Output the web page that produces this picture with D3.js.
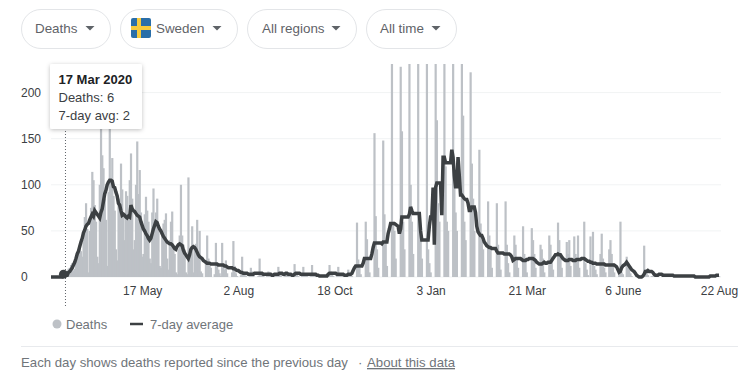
<!DOCTYPE html>
<html>
<head>
<meta charset="utf-8">
<script src="https://cdnjs.cloudflare.com/ajax/libs/d3/7.8.5/d3.min.js"></script>
<style>
body { margin: 0; background: #fff; }
text { font-family: "Liberation Sans", Arial, sans-serif; }
.axis path, .axis line { display: none; }
.axis text { font-size: 12px; fill: #3c4043; }
</style>
</head>
<body>
<div class="svg-container"></div>
<script>
//Daily values, one row = one week, first day 5 Mar 2020
const deaths = [
    0,0,0,0,0,1,0,
    0,1,0,1,1,6,2,
    9,10,13,15,7,9,20,
    26,30,34,28,22,40,65,
    80,52,5,50,75,114,105,
    78,60,22,15,100,175,132,
    118,85,62,12,92,172,105,
    129,88,72,30,18,80,85,
    123,95,70,40,93,88,62,
    105,134,85,30,40,100,147,
    90,116,70,22,25,68,87,
    72,60,20,15,70,96,60,
    70,85,50,12,10,45,58,
    62,69,20,8,40,60,71,
    30,25,5,3,30,45,100,
    45,35,30,5,3,108,30,
    25,55,5,30,36,62,25,
    50,6,4,0,0,15,45,
    20,12,10,0,0,3,37,
    15,8,4,1,37,12,8,
    18,4,0,0,0,5,39,
    12,4,1,0,0,2,22,
    6,3,1,0,0,2,10,
    6,2,0,0,0,1,20,
    5,4,2,0,0,1,6,
    5,3,1,0,0,3,4,
    11,4,2,0,0,1,3,
    4,2,1,0,0,1,14,
    5,3,1,0,0,2,11,
    3,2,1,0,0,1,13,
    4,2,1,0,0,1,2,
    1,1,0,0,0,1,13,
    6,3,1,0,0,1,11,
    3,2,1,0,0,1,2,
    8,3,2,1,0,0,0,
    59,19,10,3,0,0,0,
    60,41,20,5,0,0,0,
    156,66,30,10,0,0,0,
    148,68,40,12,0,0,0,
    300,60,50,20,0,0,0,
    228,158,60,30,0,0,0,
    330,100,60,25,0,0,0,
    280,60,40,20,0,0,0,
    240,30,15,5,0,0,0,
    600,170,80,60,0,0,0,
    500,120,60,50,0,0,0,
    450,100,70,50,0,0,0,
    480,175,60,40,0,0,0,
    222,123,85,50,0,0,0,
    138,58,40,30,0,0,0,
    82,45,30,10,0,0,0,
    80,35,25,8,0,0,0,
    82,35,15,5,0,0,0,
    45,35,20,10,0,0,0,
    55,25,20,5,0,0,0,
    53,40,25,10,0,0,0,
    35,30,20,5,0,0,0,
    45,35,22,8,0,0,0,
    59,40,25,10,0,0,0,
    38,25,40,12,0,0,44,
    25,20,45,10,0,0,0,
    60,15,8,2,0,44,0,
    49,12,8,3,0,0,25,
    47,20,10,5,0,0,30,
    40,25,15,5,0,0,0,
    8,60,5,3,0,0,22,
    10,11,4,1,0,0,0,
    2,0,0,0,0,0,34,
    8,5,2,0,0,1,1,
    2,1,0,0,0,0,0,
    4,2,1,0,0,0,1,
    2,1,0,0,0,0,1,
    1,1,0,0,0,0,1,
    1,0,0,0,0,0,1,
    1,1,0,0,0,0,0,
    1,0,0,0,0,1,1,
    2,3,1,1
];

const avg7 = [
    0,0,0,0,0,0,0,
    0,0,0,1,1,2,2,
    5,6,8,10,13,16,20,
    25,28,33,38,42,48,51,
    55,57,58,62,65,68,66,
    72,70,68,66,64,70,74,
    82,90,94,100,103,105,105,
    104,98,97,92,88,80,78,
    72,67,68,67,65,64,66,
    65,78,74,72,71,69,67,
    66,65,60,56,52,50,47,
    45,42,40,42,47,52,56,
    60,59,55,52,50,47,44,
    42,40,38,37,36,36,35,
    33,31,30,33,35,36,35,
    34,29,26,24,22,20,24,
    30,32,33,32,30,27,24,
    22,21,20,18,17,16,15,
    15,15,14,14,14,14,14,
    14,13,13,13,13,13,12,
    12,11,10,10,10,10,9,
    9,8,7,7,6,5,5,
    4,4,4,4,3,3,3,
    3,3,4,4,4,4,4,
    4,4,3,3,3,3,3,
    3,3,2,2,3,3,3,
    3,4,4,4,3,3,4,
    4,3,3,3,2,2,3,
    4,4,4,4,3,3,3,
    3,3,3,3,3,3,3,
    3,3,3,2,2,1,1,
    1,1,1,1,1,3,4,
    4,4,4,4,4,3,3,
    3,3,3,3,2,2,2,
    3,3,3,4,7,10,12,
    12,12,12,12,12,15,20,
    20,20,20,20,20,25,32,
    37,37,37,37,37,37,36,
    38,38,38,38,47,52,58,
    58,58,58,57,56,55,47,
    52,65,65,65,65,65,65,
    68,76,72,69,69,69,69,
    69,69,50,40,40,40,40,
    40,40,55,65,65,97,35,
    97,102,102,102,102,67,130,
    130,124,124,124,124,124,138,
    130,110,98,98,130,110,89,
    89,87,85,84,84,80,72,
    72,76,76,76,70,55,49,
    47,45,45,42,38,36,34,
    33,32,32,31,31,31,31,
    28,26,26,26,26,26,25,
    25,25,25,25,24,22,18,
    19,20,20,20,20,20,19,
    18,18,18,19,19,20,20,
    20,20,19,18,16,15,14,
    14,14,15,16,15,15,16,
    16,16,18,20,22,24,24,
    25,24,24,22,20,19,18,
    18,18,19,19,19,18,18,
    18,19,19,19,19,20,20,
    20,19,18,17,17,16,16,
    15,15,15,14,14,14,14,
    14,14,14,13,13,13,13,
    13,13,13,13,12,11,8,
    5,6,10,12,13,14,16,
    14,12,10,8,7,6,4,
    2,1,0,0,0,1,3,
    6,6,7,6,6,6,5,
    3,2,2,2,3,3,3,
    2,2,2,2,2,2,2,
    2,2,1,1,1,1,1,
    1,1,1,1,1,1,1,
    1,1,1,1,1,0,0,
    0,0,0,0,0,0,0,
    0,0,0,1,1,1,1,
    1,2,2,2
];

const yTicks = [0, 50, 100, 150, 200];
const xTickDays = [73, 150, 227, 304, 381, 458, 535];
const xTickLabels = ['17 May', '2 Aug', '18 Oct', '3 Jan', '21 Mar', '6 June', '22 Aug'];
const hoverDay = 12;
const tooltipLines = ['17 Mar 2020', 'Deaths: 6', '7-day avg: 2'];
const chips = ['Deaths', 'Sweden', 'All regions', 'All time'];

const svg = d3.select('.svg-container')
    .append('svg')
    .attr('width', 751)
    .attr('height', 389)
    .style('display', 'block');

//Filter chips along the top
const chipBoxes = [[21, 89], [120, 117], [247, 109], [366, 90]];
const chipText = [35, 156, 262, 380];
const chipArrow = [90, 217, 336, 436];

chips.forEach((c, i) => {
    svg.append('rect')
        .attr('x', chipBoxes[i][0] + .5).attr('y', 9.5)
        .attr('width', chipBoxes[i][1]).attr('height', 39)
        .attr('rx', 19.5)
        .attr('fill', '#fff').attr('stroke', '#e3e5e8');
    svg.append('text')
        .attr('x', chipText[i]).attr('y', 33)
        .attr('font-size', 13.4).attr('fill', '#5f6368')
        .text(c);
    svg.append('path')
        .attr('d', d3.line()([[chipArrow[i] - 4.5, 26], [chipArrow[i] + 4.5, 26], [chipArrow[i], 30.5]]) + 'Z')
        .attr('fill', '#5f6368');
});

//Swedish flag
svg.append('rect').attr('x', 131).attr('y', 18).attr('width', 20).attr('height', 20).attr('rx', 2).attr('fill', '#2a6ea8');
svg.append('rect').attr('x', 137).attr('y', 18).attr('width', 4).attr('height', 20).attr('fill', '#f7ca3c');
svg.append('rect').attr('x', 131).attr('y', 26).attr('width', 20).attr('height', 4).attr('fill', '#f7ca3c');

//Scales
const xScale = d3.scaleLinear().domain([0, 535]).range([51, 719]);
const yScale = d3.scaleLinear().domain([0, 231]).range([277, 64]).clamp(true);

//Gridlines
svg.append('g')
    .selectAll('line')
    .data(yTicks)
    .enter()
    .append('line')
    .attr('x1', 51).attr('x2', 721)
    .attr('y1', d => yScale(d)).attr('y2', d => yScale(d))
    .attr('stroke', '#f1f3f4');

//Axes
const yAxisDraw = svg.append('g')
    .attr('class', 'y axis')
    .attr('transform', 'translate(21, 0)')
    .call(d3.axisLeft(yScale).tickValues(yTicks).tickSize(0).tickPadding(0));
yAxisDraw.selectAll('text').attr('text-anchor', 'start').attr('x', 0);

svg.append('g')
    .attr('class', 'x axis')
    .attr('transform', 'translate(0, 277)')
    .call(d3.axisBottom(xScale)
        .tickValues(xTickDays)
        .tickFormat((d, i) => xTickLabels[i])
        .tickSize(0)
        .tickPadding(9));

//Bars
svg.append('g')
    .selectAll('.bar')
    .data(deaths)
    .enter()
    .append('rect')
    .attr('class', 'bar')
    .attr('x', (d, i) => xScale(i) - 1)
    .attr('y', d => yScale(d))
    .attr('width', 2.2)
    .attr('height', d => yScale(0) - yScale(d))
    .attr('fill', '#bdc1c6');

//Hover rule
svg.append('line')
    .attr('x1', xScale(hoverDay) - .5).attr('x2', xScale(hoverDay) - .5)
    .attr('y1', 125).attr('y2', 308)
    .attr('stroke', '#5f6368')
    .attr('stroke-dasharray', '1,2');

//7-day average
const line = d3.line()
    .x((d, i) => xScale(i))
    .y(d => yScale(d));

svg.append('path')
    .datum(avg7)
    .attr('d', line)
    .attr('fill', 'none')
    .attr('stroke', '#3c4043')
    .attr('stroke-width', 3.5);

svg.append('circle')
    .attr('cx', xScale(hoverDay) - 2.5)
    .attr('cy', yScale(avg7[hoverDay]) - 1)
    .attr('r', 4.5)
    .attr('fill', '#3c4043');

//Tooltip
const defs = svg.append('defs');
const shadow = defs.append('filter').attr('id', 'tipShadow')
    .attr('x', '-20%').attr('y', '-20%').attr('width', '140%').attr('height', '140%');
shadow.append('feDropShadow')
    .attr('dx', 0).attr('dy', 1).attr('stdDeviation', 2)
    .attr('flood-color', '#000').attr('flood-opacity', .25);

svg.append('rect')
    .attr('x', 50).attr('y', 64)
    .attr('width', 92).attr('height', 65)
    .attr('rx', 2)
    .attr('fill', '#fff')
    .attr('filter', 'url(#tipShadow)');

svg.append('g')
    .selectAll('text')
    .data(tooltipLines)
    .enter()
    .append('text')
    .attr('x', 58.5)
    .attr('y', (d, i) => 84 + i * 18)
    .attr('font-size', 13)
    .attr('font-weight', (d, i) => i == 0 ? 'bold' : 'normal')
    .attr('fill', (d, i) => i == 0 ? '#202124' : '#3c4043')
    .text(d => d);

//Legend
svg.append('circle').attr('cx', 57).attr('cy', 324).attr('r', 4.5).attr('fill', '#bdc1c6');
svg.append('text').attr('x', 66).attr('y', 329).attr('font-size', 13).attr('fill', '#70757a').text('Deaths');
svg.append('line').attr('x1', 130).attr('x2', 143).attr('y1', 324).attr('y2', 324)
    .attr('stroke', '#3c4043').attr('stroke-width', 2.5);
svg.append('text').attr('x', 150).attr('y', 329).attr('font-size', 13).attr('fill', '#70757a').text('7-day average');

//Footer
svg.append('line').attr('x1', 21).attr('x2', 738).attr('y1', 346.5).attr('y2', 346.5).attr('stroke', '#e8eaed');
svg.append('text').attr('x', 21).attr('y', 367).attr('font-size', 13.2).attr('fill', '#70757a')
    .text('Each day shows deaths reported since the previous day');
svg.append('text').attr('x', 358).attr('y', 367).attr('font-size', 13.2).attr('fill', '#70757a').text('·');
svg.append('text').attr('x', 367).attr('y', 367).attr('font-size', 13.2).attr('fill', '#70757a')
    .attr('text-decoration', 'underline').text('About this data');
</script>
</body>
</html>
